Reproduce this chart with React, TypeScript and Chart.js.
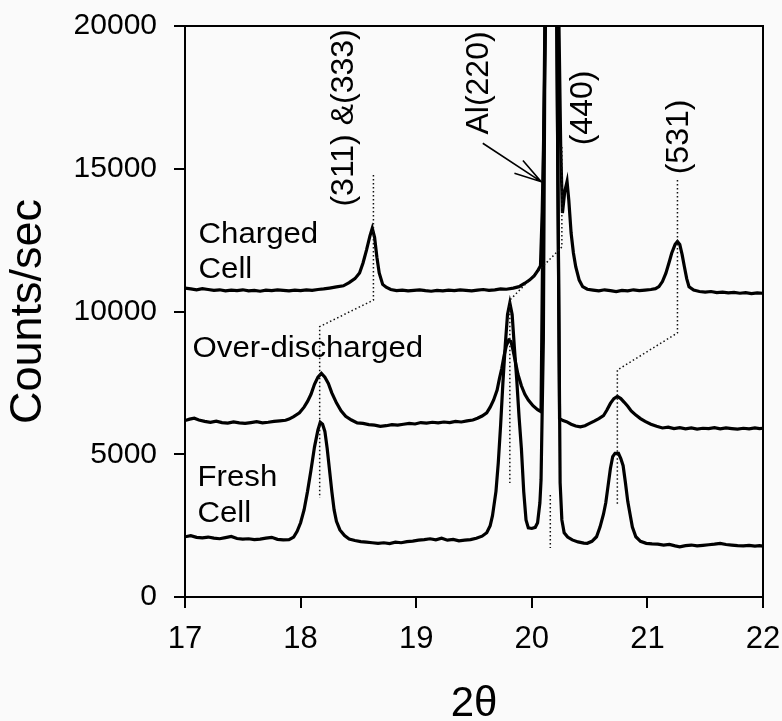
import React, { useEffect, useRef } from "react";
import { Chart, registerables } from "chart.js";
Chart.register(...registerables);

const FONT = "'Liberation Sans', Arial, Helvetica, sans-serif";

const xTicks = [17, 18, 19, 20, 21, 22];
const yTicks = [0, 5000, 10000, 15000, 20000];

// Charged Cell
const chargedX = [17.0, 17.05, 17.1, 17.15, 17.2, 17.25, 17.3, 17.35, 17.4, 17.45, 17.5, 17.55, 17.6, 17.65, 17.7, 17.75, 17.8, 17.85, 17.9, 17.95, 18.0, 18.05, 18.1, 18.15, 18.2, 18.25, 18.31, 18.37, 18.42, 18.47, 18.51, 18.54, 18.57, 18.6, 18.62, 18.64, 18.66, 18.68, 18.71, 18.74, 18.78, 18.83, 18.88, 18.93, 18.98, 19.03, 19.08, 19.13, 19.18, 19.23, 19.28, 19.33, 19.38, 19.43, 19.48, 19.53, 19.58, 19.63, 19.68, 19.73, 19.78, 19.84, 19.89, 19.94, 19.98, 20.02, 20.05, 20.075, 20.09, 20.1, 20.12, 20.165, 20.25, 20.265, 20.285, 20.305, 20.32, 20.34, 20.36, 20.38, 20.41, 20.44, 20.48, 20.53, 20.58, 20.63, 20.68, 20.73, 20.78, 20.83, 20.88, 20.93, 20.98, 21.03, 21.07, 21.1, 21.13, 21.16, 21.19, 21.21, 21.24, 21.26, 21.28, 21.3, 21.32, 21.34, 21.36, 21.4, 21.45, 21.5, 21.55, 21.6, 21.65, 21.7, 21.75, 21.8, 21.85, 21.9, 21.95, 22.0];
const chargedY = [10820, 10790, 10760, 10800, 10770, 10740, 10760, 10720, 10750, 10730, 10760, 10720, 10740, 10710, 10750, 10730, 10760, 10740, 10720, 10750, 10730, 10760, 10740, 10770, 10790, 10820, 10860, 10900, 11010, 11150, 11350, 11700, 12150, 12650, 12920, 12600, 11900, 11350, 10950, 10850, 10770, 10730, 10750, 10720, 10740, 10760, 10730, 10710, 10740, 10720, 10750, 10730, 10760, 10740, 10720, 10750, 10770, 10740, 10760, 10790, 10780, 10820, 10870, 10990, 11100, 11250, 11420, 11600, 13500, 15500, 20500, 40000, 15760, 13450, 14200, 14550, 13900, 12750, 12050, 11570, 11100, 10870, 10780, 10750, 10720, 10760, 10730, 10700, 10740, 10720, 10760, 10730, 10750, 10770, 10800, 10870, 11050, 11340, 11750, 12040, 12350, 12450, 12350, 12000, 11570, 11150, 10870, 10750, 10700, 10680, 10700, 10660, 10680, 10650, 10670, 10640, 10660, 10630, 10650, 10640];

// Over-discharged
const overX = [17.0, 17.04, 17.08, 17.12, 17.17, 17.22, 17.27, 17.32, 17.37, 17.42, 17.47, 17.52, 17.57, 17.62, 17.67, 17.72, 17.77, 17.82, 17.87, 17.9, 17.94, 17.99, 18.03, 18.06, 18.09, 18.12, 18.15, 18.18, 18.21, 18.24, 18.27, 18.31, 18.35, 18.39, 18.44, 18.49, 18.54, 18.59, 18.64, 18.69, 18.74, 18.79, 18.84, 18.89, 18.94, 18.99, 19.04, 19.09, 19.14, 19.19, 19.24, 19.29, 19.34, 19.39, 19.44, 19.49, 19.53, 19.57, 19.61, 19.64, 19.67, 19.7, 19.72, 19.74, 19.76, 19.78, 19.8, 19.82, 19.84, 19.86, 19.88, 19.91, 19.94, 19.97, 20.01, 20.05, 20.08, 20.115, 20.165, 20.215, 20.24, 20.27, 20.3, 20.34, 20.38, 20.42, 20.46, 20.5, 20.54, 20.58, 20.62, 20.65, 20.68, 20.71, 20.74, 20.77, 20.8, 20.83, 20.86, 20.9, 20.94, 20.98, 21.03, 21.08, 21.13, 21.18, 21.23, 21.28, 21.33, 21.38, 21.43, 21.48, 21.53, 21.58, 21.63, 21.68, 21.73, 21.78, 21.83, 21.88, 21.93, 21.97, 22.0];
const overY = [6180, 6230, 6260, 6200, 6150, 6120, 6160, 6110, 6090, 6130, 6100, 6080, 6110, 6140, 6100, 6120, 6150, 6170, 6190, 6230, 6320, 6450, 6650, 6850, 7100, 7450, 7700, 7830, 7700, 7480, 7150, 6800, 6520, 6330, 6200, 6100, 6080, 6040, 6020, 5980, 6000, 6040, 6020, 6050, 6080, 6060, 6110, 6090, 6120, 6100, 6130, 6110, 6150, 6130, 6170, 6200, 6260, 6340, 6450, 6650, 6900, 7250, 7650, 8000, 8450, 8800, 9000, 8950, 8600, 8200, 7800, 7400, 7100, 6900, 6700, 6560, 6490, 21000, 40000, 21000, 6250, 6180, 6140, 6050, 5990, 5960, 6000, 6080, 6160, 6250, 6350, 6550, 6780, 6950, 7030, 6950, 6820, 6680, 6520, 6370, 6250, 6150, 6050, 5980, 5920, 5950, 5900, 5930, 5890, 5920, 5880, 5910, 5900, 5930, 5890, 5920, 5900, 5880, 5910, 5890, 5920, 5900, 5910];

// Fresh Cell
const freshX = [17.0, 17.05, 17.1, 17.15, 17.2, 17.25, 17.3, 17.35, 17.4, 17.45, 17.5, 17.55, 17.6, 17.65, 17.7, 17.75, 17.8, 17.85, 17.9, 17.94, 17.97, 18.0, 18.03, 18.06, 18.09, 18.12, 18.15, 18.17, 18.19, 18.21, 18.23, 18.25, 18.27, 18.29, 18.31, 18.34, 18.38, 18.42, 18.47, 18.52, 18.57, 18.62, 18.67, 18.72, 18.77, 18.82, 18.87, 18.92, 18.97, 19.02, 19.07, 19.12, 19.17, 19.22, 19.27, 19.32, 19.37, 19.42, 19.47, 19.52, 19.57, 19.61, 19.64, 19.66, 19.69, 19.71, 19.73, 19.75, 19.77, 19.79, 19.81, 19.83, 19.85, 19.87, 19.89, 19.91, 19.93, 19.95, 19.97, 20.0, 20.03, 20.05, 20.07, 20.08, 20.1, 20.115, 20.165, 20.215, 20.245, 20.26, 20.28, 20.31, 20.35, 20.4, 20.45, 20.48, 20.52, 20.56, 20.59, 20.62, 20.64, 20.66, 20.68, 20.7, 20.72, 20.75, 20.77, 20.79, 20.81, 20.83, 20.85, 20.87, 20.9, 20.94, 20.99, 21.04, 21.09, 21.14, 21.19, 21.24, 21.28, 21.33, 21.38, 21.43, 21.48, 21.53, 21.58, 21.63, 21.68, 21.73, 21.78, 21.83, 21.88, 21.93, 21.97, 22.0];
const freshY = [2110, 2150, 2090, 2070, 2100, 2060, 2040, 2080, 2120, 2050, 2030, 2040, 2010, 2030, 2060, 2090, 2020, 2000, 2010, 2100, 2300, 2600, 3050, 3700, 4450, 5250, 5850, 6120, 6050, 5800, 5200, 4450, 3700, 3050, 2650, 2350, 2150, 2030, 1980, 1940, 1920, 1900, 1880, 1900, 1870, 1920, 1900, 1940, 1960, 1990, 2010, 2040, 2000, 2060, 1990, 2020, 1970, 1990, 2010, 2060, 2130, 2250, 2500, 2850, 3700, 4700, 6000, 7500, 8800, 9900, 10300, 9900, 8700, 7600, 6300, 5200, 3700, 2700, 2420, 2400, 2440, 2600, 3300, 4100, 9000, 20500, 40000, 20500, 4000, 2700, 2250, 2100, 2000, 1930, 1890, 1880, 1950, 2110, 2450, 2900, 3300, 3900, 4500, 4920, 5030, 5030, 4850, 4600, 4000, 3350, 2900, 2450, 2110, 1950, 1880, 1860, 1850, 1820, 1840, 1790, 1760, 1800, 1820, 1790, 1810, 1830, 1850, 1880, 1840, 1820, 1800, 1790, 1810, 1780, 1800, 1780];

// Dotted guide lines
const dot311X = [18.63, 18.63, 18.165, 18.165];
const dot311Y = [14780, 10400, 9470, 3470];
const dot440X = [20.26, 20.26, 19.81, 19.81];
const dot440Y = [15760, 12260, 10400, 3990];
const dot531X = [21.26, 21.26, 20.74, 20.74];
const dot531Y = [14610, 9250, 7950, 3220];
const dotAlX = [20.16, 20.16];
const dotAlY = [3570, 1720];

// Horizontal text labels (left x, baseline y in data units)
const hText = ["Charged", "Cell", "Over-discharged", "Fresh", "Cell"];
const hX = [17.117, 17.117, 17.065, 17.108, 17.108];
const hY = [12390, 11165, 8418, 3888, 2638];

// Rotated text labels (center in data units)
const vText = ["(311) &(333)", "Al(220)", "(440)", "(531)"];
const vX = [18.38, 19.548, 20.448, 21.278];
const vY = [16780, 18005, 17130, 16114];

// Arrow (tail -> tip)
const arrowX = [19.576, 20.081];
const arrowY = [15893, 14548];

const pts = (xs: number[], ys: number[]) => xs.map((x, i) => ({ x, y: ys[i] }));

export default function App() {
  const ref = useRef<HTMLCanvasElement>(null);
  useEffect(() => {
    const canvas = ref.current!;
    const annot = {
      id: "annot",
      afterDatasetsDraw(chart: any) {
        const ctx = chart.ctx as CanvasRenderingContext2D;
        const xs = chart.scales.x;
        const ys = chart.scales.y;
        const a = chart.chartArea;
        ctx.save();
        ctx.strokeStyle = "#000";
        ctx.lineWidth = 2;
        ctx.beginPath();
        ctx.moveTo(a.left, a.top);
        ctx.lineTo(a.right, a.top);
        ctx.lineTo(a.right, a.bottom);
        ctx.stroke();
        ctx.fillStyle = "#000";
        ctx.textAlign = "left";
        ctx.textBaseline = "alphabetic";
        hText.forEach((t, i) => {
          ctx.save();
          ctx.translate(xs.getPixelForValue(hX[i]), ys.getPixelForValue(hY[i]));
          ctx.scale(1.04, 1);
          ctx.font = `30px ${FONT}`;
          ctx.fillText(t, 0, 0);
          ctx.restore();
        });
        vText.forEach((t, i) => {
          ctx.save();
          ctx.translate(xs.getPixelForValue(vX[i]), ys.getPixelForValue(vY[i]));
          ctx.rotate(-Math.PI / 2);
          ctx.font = `32px ${FONT}`;
          ctx.textAlign = "center";
          ctx.textBaseline = "middle";
          ctx.fillText(t, 0, 0);
          ctx.restore();
        });
        const x0 = xs.getPixelForValue(arrowX[0]);
        const y0 = ys.getPixelForValue(arrowY[0]);
        const x1 = xs.getPixelForValue(arrowX[1]);
        const y1 = ys.getPixelForValue(arrowY[1]);
        const ang = Math.atan2(y0 - y1, x0 - x1);
        const hl = 28;
        const ha = (16 * Math.PI) / 180;
        ctx.lineWidth = 1.6;
        ctx.beginPath();
        ctx.moveTo(x0, y0);
        ctx.lineTo(x1, y1);
        ctx.moveTo(x1 + hl * Math.cos(ang + ha), y1 + hl * Math.sin(ang + ha));
        ctx.lineTo(x1, y1);
        ctx.lineTo(x1 + hl * Math.cos(ang - ha), y1 + hl * Math.sin(ang - ha));
        ctx.stroke();
        ctx.restore();
      },
    };

    const curve = (xs: number[], ys: number[]) => ({
      data: pts(xs, ys),
      borderColor: "#000",
      borderWidth: 3.2,
      pointRadius: 0,
      tension: 0,
      fill: false,
      clip: 0,
    });
    const dotted = (xs: number[], ys: number[]) => ({
      data: pts(xs, ys),
      borderColor: "#111",
      borderWidth: 1.5,
      borderDash: [1.5, 2.5],
      pointRadius: 0,
      tension: 0,
      fill: false,
      clip: 0,
    });
    const noPad = (s: any) => {
      s.paddingLeft = 0;
      s.paddingRight = 0;
      s.paddingTop = 0;
      s.paddingBottom = 0;
    };

    const chart = new Chart(canvas, {
      type: "line",
      data: {
        datasets: [
          dotted(dot311X, dot311Y),
          dotted(dot440X, dot440Y),
          dotted(dot531X, dot531Y),
          dotted(dotAlX, dotAlY),
          curve(chargedX, chargedY),
          curve(overX, overY),
          curve(freshX, freshY),
        ] as any,
      },
      options: {
        responsive: false,
        animation: false,
        devicePixelRatio: 1,
        layout: { padding: { top: 26, right: 19, left: 0, bottom: 0 } },
        plugins: { legend: { display: false }, tooltip: { enabled: false } },
        scales: {
          x: {
            type: "linear",
            position: "bottom",
            min: 17,
            max: 22,
            afterBuildTicks: (s: any) => {
              s.ticks = xTicks.map((v) => ({ value: v }));
            },
            afterFit: (s: any) => {
              s.height = 124;
              noPad(s);
            },
            ticks: {
              color: "#000",
              font: { size: 31, family: FONT },
              padding: 13,
              maxRotation: 0,
              autoSkip: false,
              callback: (v: any) => String(v),
            },
            grid: { drawOnChartArea: false, drawTicks: true, tickLength: 11, color: "#000", lineWidth: 2 },
            border: { display: true, color: "#000", width: 2 },
            title: {
              display: true,
              text: "2θ",
              color: "#000",
              font: { size: 42, family: FONT, lineHeight: 1.0 },
              padding: { top: 0, bottom: -4 },
            },
          },
          y: {
            type: "linear",
            min: 0,
            max: 20000,
            afterBuildTicks: (s: any) => {
              s.ticks = yTicks.map((v) => ({ value: v }));
            },
            afterFit: (s: any) => {
              s.width = 185;
              noPad(s);
            },
            ticks: {
              color: "#000",
              font: { size: 30, family: FONT },
              padding: 17,
              callback: (v: any) => String(v),
            },
            grid: { drawOnChartArea: false, drawTicks: true, tickLength: 11, color: "#000", lineWidth: 2 },
            border: { display: true, color: "#000", width: 2 },
            title: {
              display: true,
              text: "Counts/sec",
              color: "#000",
              font: { size: 45, family: FONT, lineHeight: 1.0 },
              padding: { top: 6, bottom: 0 },
            },
          },
        },
      } as any,
      plugins: [annot],
    });
    return () => chart.destroy();
  }, []);
  return (
    <div style={{ position: "fixed", left: 0, top: 0, width: 782, height: 721, background: "#fafafa" }}>
      <canvas ref={ref} width={782} height={721} style={{ width: 782, height: 721, display: "block" }} />
    </div>
  );
}
